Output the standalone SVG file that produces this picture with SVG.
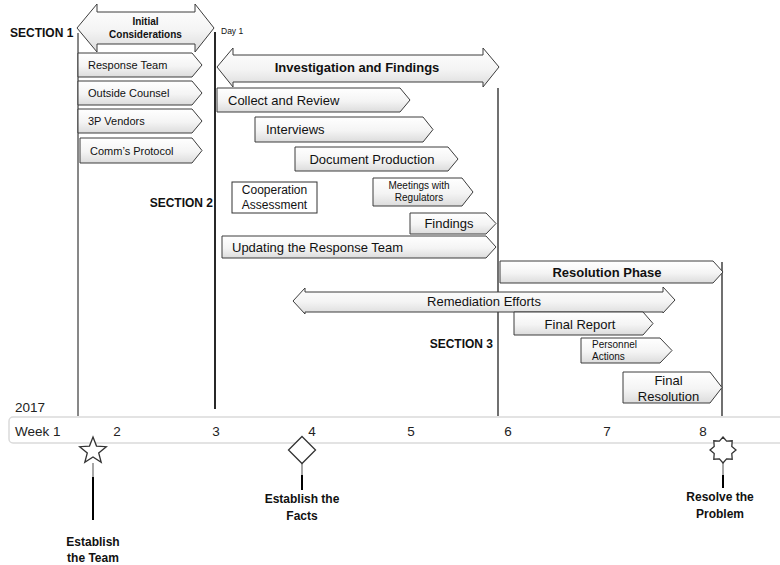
<svg xmlns="http://www.w3.org/2000/svg" width="780" height="565" viewBox="0 0 780 565">
<defs>
<linearGradient id="gb" x1="0" y1="0" x2="0" y2="1">
<stop offset="0" stop-color="#ffffff"/>
<stop offset="0.55" stop-color="#f4f4f4"/>
<stop offset="1" stop-color="#dcdcdc"/>
</linearGradient>
<linearGradient id="gl" x1="0" y1="0" x2="1" y2="0">
<stop offset="0" stop-color="#bdbdbd"/>
<stop offset="0.05" stop-color="#f2f2f2"/>
<stop offset="1" stop-color="#ffffff" stop-opacity="0"/>
</linearGradient>
</defs>
<style>
.bx{fill:url(#gb);stroke:#3c3c3c;stroke-width:1}
.t{font-family:"Liberation Sans",Arial,sans-serif;fill:#111}
.b{font-weight:bold}
.sec{font-family:"Liberation Sans",Arial,sans-serif;font-weight:bold;font-size:12px;fill:#111}
.tl{font-family:"Liberation Sans",Arial,sans-serif;font-size:13.5px;fill:#222}
.vl{stroke:#111;fill:none}
.stg{stroke:#888;stroke-width:1.5}
.stb{stroke:#000;stroke-width:2}
.mk{fill:#fff;stroke:#333;stroke-width:1.3}
</style>
<rect width="780" height="565" fill="#fff"/>

<g id="connectors">
<line class="vl" x1="78" y1="33" x2="78" y2="416" stroke-width="1"/>
<line class="vl" x1="215" y1="32" x2="215" y2="409" stroke-width="1.8"/>
<line class="vl" x1="498" y1="88" x2="498" y2="416" stroke-width="1.2"/>
<line class="vl" x1="722" y1="262" x2="722" y2="416" stroke-width="1.2"/>
<line class="stg" x1="93" y1="463" x2="93" y2="477"/>
<line class="stb" x1="93" y1="477" x2="93" y2="520"/>
<line class="stg" x1="302" y1="463" x2="302" y2="475"/>
<line class="stb" x1="302" y1="475" x2="302" y2="490"/>
<line class="stg" x1="723" y1="463" x2="723" y2="475"/>
<line class="stb" x1="723" y1="475" x2="723" y2="488"/>
</g>

<g id="section-labels">
<text class="sec" x="10" y="37">SECTION 1</text>
<text class="sec" x="213" y="207" text-anchor="end">SECTION 2</text>
<text class="sec" x="493" y="348" text-anchor="end">SECTION 3</text>
<text class="t" x="221" y="34" font-size="8.5">Day 1</text>
</g>

<g id="initial-considerations">
<path class="bx" d="M77 28 L97 4 V12 H195 V4 L214 28 L195 52 V44 H97 V52 Z"/>
<text class="t b" x="145.5" y="25" font-size="10" text-anchor="middle">Initial</text>
<text class="t b" x="145.5" y="38" font-size="10" text-anchor="middle">Considerations</text>
</g>

<g id="response-team">
<path class="bx" d="M78 53 H192 L202 65 L192 77 H78 Z"/>
<text class="t" x="88" y="69" font-size="11">Response Team</text>
</g>
<g id="outside-counsel">
<path class="bx" d="M78 81 H192 L202 93 L192 105 H78 Z"/>
<text class="t" x="88" y="97" font-size="11">Outside Counsel</text>
</g>
<g id="3p-vendors">
<path class="bx" d="M78 109 H192 L202 121 L192 133 H78 Z"/>
<text class="t" x="88" y="125" font-size="11">3P Vendors</text>
</g>
<g id="comms-protocol">
<path class="bx" d="M80 138 H192 L202 150.5 L192 163 H80 Z"/>
<text class="t" x="90" y="155" font-size="11">Comm’s Protocol</text>
</g>

<g id="investigation">
<path class="bx" d="M217 67 L233 48 V55 H483 V48 L499 67 L483 87 V82 H233 V87 Z"/>
<text class="t b" x="357" y="72" font-size="13" text-anchor="middle">Investigation and Findings</text>
</g>
<g id="collect-review">
<path class="bx" d="M217 88 H400 L410 100 L400 112 H217 Z"/>
<text class="t" x="228" y="105" font-size="13">Collect and Review</text>
</g>
<g id="interviews">
<path class="bx" d="M255 117 H423 L433 129.5 L423 142 H255 Z"/>
<text class="t" x="266" y="134" font-size="13">Interviews</text>
</g>
<g id="document-production">
<path class="bx" d="M295 147 H448 L458 159 L448 171 H295 Z"/>
<text class="t" x="372" y="164" font-size="13" text-anchor="middle">Document Production</text>
</g>
<g id="cooperation-assessment">
<rect x="232" y="182" width="85" height="31" fill="#fff" stroke="#333" stroke-width="1"/>
<text class="t" x="274.5" y="194" font-size="12" text-anchor="middle">Cooperation</text>
<text class="t" x="274.5" y="209" font-size="12" text-anchor="middle">Assessment</text>
</g>
<g id="meetings-regulators">
<path class="bx" d="M373 178 H462 L473 192 L462 206 H373 Z"/>
<text class="t" x="419" y="189" font-size="10" text-anchor="middle">Meetings with</text>
<text class="t" x="419" y="201" font-size="10" text-anchor="middle">Regulators</text>
</g>
<g id="findings">
<path class="bx" d="M410 213 H486 L496 223.5 L486 234 H410 Z"/>
<text class="t" x="449" y="228" font-size="13" text-anchor="middle">Findings</text>
</g>
<g id="updating-response-team">
<path class="bx" d="M222 236 H486 L496 247 L486 258 H222 Z"/>
<text class="t" x="232" y="252" font-size="13">Updating the Response Team</text>
</g>

<g id="resolution-phase">
<path class="bx" d="M500 261 H713 L723 272 L713 283 H500 Z"/>
<text class="t b" x="607" y="277" font-size="13" text-anchor="middle">Resolution Phase</text>
</g>
<g id="remediation-efforts">
<path class="bx" d="M293 301 L305 288 V292 H663 V287 L675 300 L663 313 V312 H305 V314 Z"/>
<text class="t" x="484" y="306" font-size="13" text-anchor="middle">Remediation Efforts</text>
</g>
<g id="final-report">
<path class="bx" d="M514 312 H643 L653 323.5 L643 335 H514 Z"/>
<text class="t" x="580" y="329" font-size="13" text-anchor="middle">Final Report</text>
</g>
<g id="personnel-actions">
<path class="bx" d="M581 338 H660 L672 350.5 L660 363 H581 Z"/>
<text class="t" x="592" y="348" font-size="10">Personnel</text>
<text class="t" x="592" y="360" font-size="10">Actions</text>
</g>
<g id="final-resolution">
<path class="bx" d="M623 372 H710 L722 387.5 L710 403 H623 Z"/>
<text class="t" x="668.5" y="385" font-size="13" text-anchor="middle">Final</text>
<text class="t" x="668.5" y="401" font-size="13" text-anchor="middle">Resolution</text>
</g>

<g id="timeline">
<text class="tl" x="15" y="412">2017</text>
<rect x="9" y="417" width="790" height="26" rx="4" fill="#fff" stroke="#dadada" stroke-width="1.5"/>
<text class="tl" x="15" y="436">Week 1</text>
<text class="tl" x="117" y="436" text-anchor="middle">2</text>
<text class="tl" x="216" y="436" text-anchor="middle">3</text>
<text class="tl" x="312" y="436" text-anchor="middle">4</text>
<text class="tl" x="411" y="436" text-anchor="middle">5</text>
<text class="tl" x="508" y="436" text-anchor="middle">6</text>
<text class="tl" x="607" y="436" text-anchor="middle">7</text>
<text class="tl" x="703" y="436" text-anchor="middle">8</text>
</g>

<g id="milestone-team">
<path class="mk" d="M93 437 L96.5 446.1 L106.3 446.7 L98.7 452.9 L101.2 462.3 L93 457 L84.8 462.3 L87.3 452.9 L79.7 446.7 L89.5 446.1 Z"/>
<text class="sec" x="93" y="546" text-anchor="middle">Establish</text>
<text class="sec" x="93" y="562" text-anchor="middle">the Team</text>
</g>
<g id="milestone-facts">
<path class="mk" d="M302 436.5 L315.5 450 L302 463.5 L288.5 450 Z"/>
<text class="sec" x="302" y="503" text-anchor="middle">Establish the</text>
<text class="sec" x="302" y="520" text-anchor="middle">Facts</text>
</g>
<g id="milestone-problem">
<path class="mk" d="M723 437 L726.6 441.2 L732.2 440.8 L731.8 446.4 L736 450 L731.8 453.6 L732.2 459.2 L726.6 458.8 L723 463 L719.4 458.8 L713.8 459.2 L714.2 453.6 L710 450 L714.2 446.4 L713.8 440.8 L719.4 441.2 Z"/>
<text class="sec" x="720" y="501" text-anchor="middle">Resolve the</text>
<text class="sec" x="720" y="518" text-anchor="middle">Problem</text>
</g>
</svg>
